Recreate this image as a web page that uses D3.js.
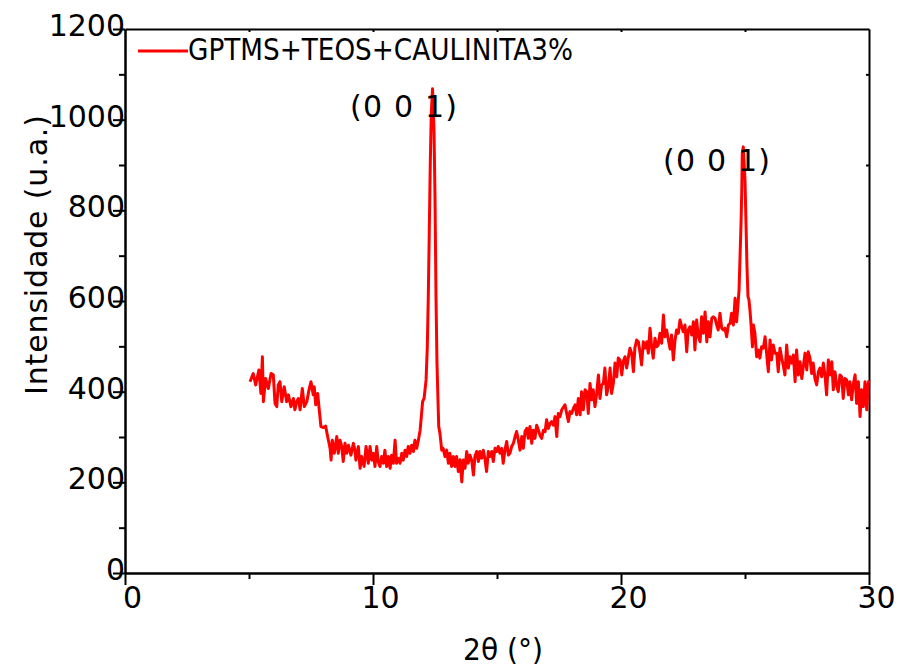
<!DOCTYPE html>
<html>
<head>
<meta charset="utf-8">
<script src="https://cdn.jsdelivr.net/npm/d3@7"></script>
<style>
  body { margin: 0; background: #fff; }
  svg { display: block; font-family: "DejaVu Sans", sans-serif; }
  .axis path, .axis line { stroke: #000; stroke-width: 2; }
  .axis text { fill: #000; font-size: 30px; font-family: "DejaVu Sans", sans-serif; }
</style>
</head>
<body>
<script>
// 2theta (degrees)
const twoTheta = [
  5.04, 5.17, 5.27, 5.40, 5.48, 5.54, 5.58, 5.67, 5.78, 5.89, 5.98, 6.05, 6.12, 6.18, 6.25, 6.32,
  6.42, 6.52, 6.59, 6.69, 6.79, 6.85, 6.92, 6.99, 7.06, 7.15, 7.23, 7.33, 7.42, 7.50, 7.59, 7.63,
  7.69, 7.77, 7.82, 7.90, 8.00, 8.09, 8.17, 8.27, 8.31, 8.36, 8.44, 8.54, 8.60, 8.67, 8.74, 8.80,
  8.87, 8.94, 9.01, 9.11, 9.21, 9.27, 9.31, 9.41, 9.48, 9.54, 9.64, 9.72, 9.81, 9.88, 9.95, 10.01,
  10.08, 10.15, 10.21, 10.28, 10.35, 10.42, 10.48, 10.55, 10.62, 10.69, 10.75, 10.82, 10.89, 10.95,
  11.02, 11.09, 11.16, 11.22, 11.29, 11.36, 11.42, 11.49, 11.56, 11.63, 11.69, 11.76, 11.83, 11.90,
  11.96, 12.00, 12.06, 12.14, 12.19, 12.23, 12.27, 12.31, 12.35, 12.40, 12.46, 12.50, 12.54, 12.58,
  12.62, 12.65, 12.70, 12.77, 12.83, 12.90, 12.97, 13.04, 13.10, 13.17, 13.24, 13.31, 13.37, 13.44,
  13.51, 13.58, 13.64, 13.71, 13.78, 13.84, 13.91, 13.98, 14.05, 14.11, 14.18, 14.25, 14.31, 14.38,
  14.45, 14.52, 14.58, 14.65, 14.72, 14.79, 14.85, 14.92, 14.99, 15.05, 15.12, 15.19, 15.25, 15.32,
  15.39, 15.46, 15.52, 15.59, 15.66, 15.73, 15.79, 15.86, 15.93, 16.00, 16.06, 16.13, 16.20, 16.26,
  16.33, 16.40, 16.46, 16.53, 16.60, 16.67, 16.73, 16.80, 16.87, 16.94, 17.00, 17.07, 17.14, 17.20,
  17.27, 17.34, 17.41, 17.47, 17.54, 17.61, 17.67, 17.74, 17.81, 17.88, 17.94, 18.01, 18.08, 18.15,
  18.21, 18.28, 18.35, 18.41, 18.48, 18.55, 18.62, 18.68, 18.75, 18.82, 18.88, 18.95, 19.02, 19.09,
  19.15, 19.22, 19.29, 19.35, 19.42, 19.49, 19.56, 19.62, 19.69, 19.76, 19.83, 19.89, 19.96, 20.03,
  20.09, 20.16, 20.23, 20.30, 20.36, 20.43, 20.50, 20.56, 20.63, 20.70, 20.77, 20.83, 20.90, 20.97,
  21.04, 21.10, 21.17, 21.24, 21.30, 21.37, 21.44, 21.50, 21.57, 21.64, 21.71, 21.77, 21.84, 21.91,
  21.98, 22.04, 22.11, 22.18, 22.24, 22.31, 22.38, 22.45, 22.51, 22.58, 22.65, 22.71, 22.78, 22.85,
  22.92, 22.98, 23.05, 23.12, 23.19, 23.25, 23.32, 23.39, 23.46, 23.52, 23.59, 23.66, 23.72, 23.79,
  23.86, 23.92, 23.99, 24.06, 24.13, 24.19, 24.26, 24.33, 24.40, 24.46, 24.53, 24.60, 24.66, 24.70,
  24.76, 24.80, 24.84, 24.87, 24.89, 24.93, 25.00, 25.04, 25.08, 25.12, 25.16, 25.20, 25.24, 25.30,
  25.34, 25.40, 25.47, 25.54, 25.60, 25.67, 25.74, 25.81, 25.87, 25.94, 26.01, 26.07, 26.14, 26.21,
  26.28, 26.34, 26.41, 26.48, 26.54, 26.61, 26.68, 26.75, 26.81, 26.88, 26.95, 27.02, 27.08, 27.15,
  27.22, 27.29, 27.35, 27.42, 27.49, 27.55, 27.62, 27.69, 27.75, 27.82, 27.89, 27.96, 28.02, 28.09,
  28.16, 28.23, 28.29, 28.36, 28.43, 28.50, 28.56, 28.63, 28.70, 28.76, 28.83, 28.90, 28.96, 29.03,
  29.10, 29.17, 29.23, 29.30, 29.37, 29.44, 29.50, 29.57, 29.64, 29.70, 29.77, 29.84, 29.91, 29.97,
  30.00
];

// intensity (u.a.)
const intensity = [
  422, 440, 415, 448, 396, 477, 378, 429, 407, 440, 437, 374, 367, 415, 422, 378,
  411, 378, 393, 367, 385, 360, 378, 385, 360, 407, 367, 378, 404, 422, 393, 411,
  371, 396, 367, 323, 321, 324, 301, 275, 249, 293, 264, 301, 264, 293, 279, 246,
  286, 264, 282, 260, 286, 271, 249, 279, 231, 257, 235, 279, 242, 279, 249, 264,
  235, 279, 246, 235, 257, 242, 271, 235, 257, 231, 260, 242, 293, 242,
  253, 242, 264, 249, 271, 257, 279, 264, 282, 268, 293, 275, 293, 315,
  352, 378, 385, 426, 499, 610, 757, 904, 1014, 1068, 977, 830, 610, 463,
  382, 323, 308, 271, 275, 257, 271, 242, 264, 235, 257, 235, 257, 224,
  250, 201, 249, 231, 268, 242, 260, 249, 216, 257, 268, 246, 268, 253,
  271, 249, 224, 268, 257, 268, 246, 275, 268, 279, 264, 275, 242, 271,
  290, 260, 264, 279, 286, 301, 312, 293, 271, 301, 275, 312, 319, 297,
  323, 286, 315, 297, 326, 315, 304, 297, 315, 312, 338, 319, 330, 334,
  326, 345, 301, 352, 345, 360, 365, 371, 352, 334, 356, 352, 363, 371,
  349, 385, 349, 400, 360, 404, 400, 352, 418, 382, 404, 367, 396, 437,
  385, 415, 418, 452, 393, 411, 452, 396, 418, 463, 433, 474, 470, 437,
  466, 477, 452, 477, 496, 485, 444, 496, 514, 510, 485, 459, 510, 496,
  510, 485, 540, 496, 474, 518, 499, 503, 529, 507, 569, 521, 536, 514,
  494, 525, 470, 514, 536, 529, 558, 543, 532, 547, 488, 536, 543, 525,
  554, 492, 558, 521, 510, 565, 529, 576, 510, 554, 521, 562, 565, 562,
  547, 536, 573, 540, 536, 540, 521, 547, 551, 573, 547, 606, 554, 580,
  624, 698, 771, 845, 926, 940, 867, 771, 676, 610, 602, 580, 551, 499,
  547, 529, 477, 492, 474, 499, 496, 521, 485, 444, 514, 470, 503, 485,
  485, 444, 496, 474, 459, 437, 503, 452, 477, 463, 481, 422, 492, 437,
  466, 429, 455, 485, 448, 488, 474, 440, 463, 429, 415, 444, 452, 433,
  463, 433, 393, 470, 437, 466, 404, 444, 411, 400, 437, 433, 385, 429,
  426, 393, 422, 382, 418, 437, 374, 422, 345, 404, 367, 422, 360, 418,
  425
];

const xMajor = [0, 10, 20, 30];
const xMinor = [5, 15, 25];
const yMajor = [0, 200, 400, 600, 800, 1000, 1200];
const yMinor = [100, 300, 500, 700, 900, 1100];

const seriesName = 'GPTMS+TEOS+CAULINITA3%';
// label text, centre in 2theta, baseline in intensity units
const peakLabels = ['(0 0 1)', '(0 0 1)'];
const peakLabelX = [11.23, 23.85];
const peakLabelY = [1006, 887];

const width = 904;
const height = 667;
const margin = { top: 29, right: 35, bottom: 94, left: 125 };

const svg = d3.select('body').append('svg')
    .attr('width', width)
    .attr('height', height);

const x = d3.scaleLinear()
    .domain([0, 30])
    .range([margin.left, width - margin.right]);

const y = d3.scaleLinear()
    .domain([0, 1200])
    .range([height - margin.bottom, margin.top]);

const plotBottom = height - margin.bottom;
const plotRight = width - margin.right;

// bottom axis, major + minor ticks
svg.append('g')
    .attr('class', 'axis')
    .attr('transform', `translate(0, ${plotBottom})`)
    .call(d3.axisBottom(x).tickValues(xMajor).tickSize(12).tickSizeOuter(0).tickPadding(2).tickFormat(d3.format('d')))
    .selectAll('text')
    .attr('dx', 7);

svg.append('g')
    .attr('class', 'axis')
    .attr('transform', `translate(0, ${plotBottom})`)
    .call(d3.axisBottom(x).tickValues(xMinor).tickSize(6).tickSizeOuter(0).tickFormat(''));

// left axis, major + minor ticks
svg.append('g')
    .attr('class', 'axis')
    .attr('transform', `translate(${margin.left}, 0)`)
    .call(d3.axisLeft(y).tickValues(yMajor).tickSize(12).tickSizeOuter(0).tickPadding(-12).tickFormat(d3.format('d')))
    .selectAll('text')
    .attr('dy', '0.22em');

svg.append('g')
    .attr('class', 'axis')
    .attr('transform', `translate(${margin.left}, 0)`)
    .call(d3.axisLeft(y).tickValues(yMinor).tickSize(6).tickSizeOuter(0).tickFormat(''));

// top + right frame with small inward ticks
svg.append('g')
    .attr('class', 'axis')
    .attr('transform', `translate(0, ${margin.top})`)
    .call(d3.axisTop(x).tickValues(xMinor.concat([10, 20])).tickSize(-3).tickSizeOuter(0).tickFormat(''));

svg.append('g')
    .attr('class', 'axis')
    .attr('transform', `translate(${plotRight}, 0)`)
    .call(d3.axisRight(y).tickValues(yMinor).tickSize(-3).tickSizeOuter(0).tickFormat(''));

// the pattern
const points = twoTheta.map((t, i) => [t, intensity[i]]);

const line = d3.line()
    .x(d => x(d[0]))
    .y(d => y(d[1]));

svg.append('path')
    .datum(points)
    .attr('fill', 'none')
    .attr('stroke', '#ff0000')
    .attr('stroke-width', 3)
    .attr('stroke-linejoin', 'round')
    .attr('d', line);

// legend
svg.append('line')
    .attr('x1', 138)
    .attr('x2', 188)
    .attr('y1', 51)
    .attr('y2', 51)
    .attr('stroke', '#ff0000')
    .attr('stroke-width', 3);

svg.append('text')
    .attr('x', 188)
    .attr('y', 60)
    .attr('textLength', 385)
    .attr('lengthAdjust', 'spacingAndGlyphs')
    .style('font-size', '30px')
    .text(seriesName);

// peak labels
svg.selectAll('.peak')
    .data(peakLabels)
    .enter()
    .append('text')
    .attr('class', 'peak')
    .attr('x', (d, i) => x(peakLabelX[i]))
    .attr('y', (d, i) => y(peakLabelY[i]))
    .attr('text-anchor', 'middle')
    .attr('textLength', 107)
    .style('font-size', '30px')
    .text(d => d);

// axis titles
svg.append('text')
    .attr('transform', 'translate(47, 255) rotate(-90)')
    .attr('text-anchor', 'middle')
    .attr('textLength', 280)
    .style('font-size', '30px')
    .text('Intensidade (u.a.)');

svg.append('text')
    .attr('x', 503)
    .attr('y', 660)
    .attr('text-anchor', 'middle')
    .attr('textLength', 80)
    .attr('lengthAdjust', 'spacingAndGlyphs')
    .style('font-size', '30px')
    .text('2θ (°)');
</script>
</body>
</html>
